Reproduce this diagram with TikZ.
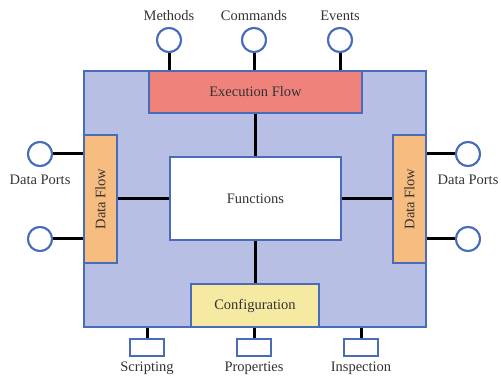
\documentclass[tikz,border=0pt]{standalone}
\usepackage{fontspec}
\setmainfont{Liberation Serif}
\definecolor{mainfill}{RGB}{183,192,228}
\definecolor{edge}{RGB}{72,108,186}
\definecolor{execfill}{RGB}{240,130,124}
\definecolor{dataflowfill}{RGB}{246,188,128}
\definecolor{configfill}{RGB}{246,234,162}
\tikzset{
  box/.style={draw=edge, line width=2pt, inner sep=0pt, anchor=north west},
  port/.style={circle, draw=edge, line width=2pt, fill=white, minimum size=24pt, inner sep=0pt},
  sq/.style={rectangle, draw=edge, line width=2pt, fill=white, minimum width=34pt, minimum height=17pt, inner sep=0pt},
  wire/.style={line width=3pt, black},
  lbl/.style={font=\fontsize{14.5}{16}\selectfont, text=black!80, inner sep=1pt},
}
\begin{document}
\begin{tikzpicture}[x=1pt,y=-1pt]
\useasboundingbox (0,0) rectangle (501,379);
% main block
\node[box, fill=mainfill, minimum width=342pt, minimum height=256pt] (main) at (83,70) {};
% top ports
\node[port] (pm) at (169,40) {};
\node[port] (pc) at (254,40) {};
\node[port] (pe) at (340,40) {};
\node[lbl] (lm) at (169,16) {Methods};
\node[lbl] (lc) at (254,16) {Commands};
\node[lbl] (le) at (340,16) {Events};
% inner boxes
\node[box, fill=execfill, minimum width=213pt, minimum height=42pt] (exec) at (148,70) {};
\node[lbl] at (exec.center) {Execution Flow};
\node[box, fill=white, minimum width=171pt, minimum height=83pt] (func) at (169,156) {};
\node[lbl] at (func.center) {Functions};
\node[box, fill=configfill, minimum width=128pt, minimum height=43pt] (conf) at (190,283) {};
\node[lbl] at (conf.center) {Configuration};
\node[box, fill=dataflowfill, minimum width=33pt, minimum height=128pt] (dfl) at (83,134) {};
\node[lbl, rotate=90] at (dfl.center) {Data Flow};
\node[box, fill=dataflowfill, minimum width=33pt, minimum height=128pt] (dfr) at (392,134) {};
\node[lbl, rotate=90] at (dfr.center) {Data Flow};
% side ports
\node[port] (pl1) at (40,154) {};
\node[port] (pl2) at (40,239) {};
\node[port] (pr1) at (468,154) {};
\node[port] (pr2) at (468,239) {};
\node[lbl] (ldl) at (40,180) {Data Ports};
\node[lbl] (ldr) at (468,180) {Data Ports};
% bottom ports
\node[sq] (bs) at (147,348) {};
\node[sq] (bp) at (254,348) {};
\node[sq] (bi) at (361,348) {};
\node[lbl] (ls) at (147,368) {Scripting};
\node[lbl] (lp) at (254,368) {Properties};
\node[lbl] (li) at (361,368) {Inspection};
% wires
\draw[wire] (pm.south) -- (pm.south |- exec.north);
\draw[wire] (pc.south) -- (pc.south |- exec.north);
\draw[wire] (pe.south) -- (pe.south |- exec.north);
\draw[wire] (exec.south -| conf.north) -- (conf.north |- func.north);
\draw[wire] (conf.north |- func.south) -- (conf.north);
\draw[wire] (func.west) -- (func.west -| dfl.east);
\draw[wire] (func.east) -- (func.east -| dfr.west);
\draw[wire] (pl1.east) -- (pl1.east -| dfl.west);
\draw[wire] (pl2.east) -- (pl2.east -| dfl.west);
\draw[wire] (pr1.west) -- (pr1.west -| dfr.east);
\draw[wire] (pr2.west) -- (pr2.west -| dfr.east);
\draw[wire] (bs.north) -- (bs.north |- main.south);
\draw[wire] (bp.north) -- (bp.north |- main.south);
\draw[wire] (bi.north) -- (bi.north |- main.south);
% redraw ports over wire ends
\node[port] at (pm) {};
\node[port] at (pc) {};
\node[port] at (pe) {};
\node[port] at (pl1) {};
\node[port] at (pl2) {};
\node[port] at (pr1) {};
\node[port] at (pr2) {};
\node[sq] at (bs) {};
\node[sq] at (bp) {};
\node[sq] at (bi) {};
\end{tikzpicture}
\end{document}
